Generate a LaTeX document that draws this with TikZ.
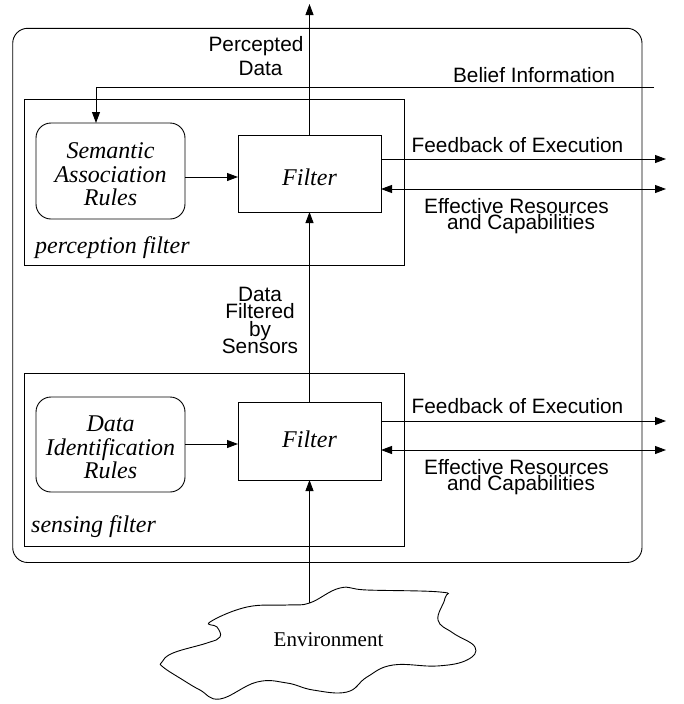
\documentclass[tikz,border=0pt]{standalone}
\usepackage{fontspec}
\setmainfont{Liberation Serif}
\setsansfont{Liberation Sans}
\usetikzlibrary{arrows.meta}
\newcommand{\lblf}[1]{\sffamily\fontsize{20.8}{#1}\selectfont\lineskiplimit=-30pt\relax}
\begin{document}
\begin{tikzpicture}[x=1pt,y=-1pt,
  plain/.style={line width=0.9pt},
  arr/.style={line width=0.9pt,-{Triangle[length=11pt,width=8pt]}},
  darr/.style={line width=0.9pt,{Triangle[length=11pt,width=8pt]}-{Triangle[length=11pt,width=8pt]}},
  rulebox/.style={draw,line width=0.9pt,rounded corners=15pt,minimum width=149pt,inner sep=0pt,outer sep=0pt,align=center,
    font={\itshape\fontsize{24}{23.5}\selectfont\lineskiplimit=-30pt\relax}},
  filtbox/.style={draw,line width=0.9pt,minimum width=143pt,inner sep=0pt,outer sep=0pt,text depth=0pt,
    font={\itshape\fontsize{24}{28}\selectfont}},
  groupbox/.style={draw,line width=0.9pt,inner sep=0pt,outer sep=0pt},
  grouplbl/.style={inner sep=0pt,anchor=base west,font={\itshape\fontsize{24}{28}\selectfont}},
  lbl/.style={inner sep=0pt,align=center}
]
\useasboundingbox (0,0) rectangle (683,704);

% outer agent box
\node[groupbox,rounded corners=15pt,minimum width=629.3pt,minimum height=534.2pt] (outer) at (327.35,295.4) {};

% group boxes
\node[groupbox,minimum width=379.7pt,minimum height=166.4pt] (pbox) at (214.15,182.5) {};
\node[groupbox,minimum width=380pt,minimum height=173pt] (sbox) at (214,459.5) {};
\node[grouplbl] (plbl) at (35,253) {perception filter};
\node[grouplbl] (slbl) at (31,532) {sensing filter};

% inner boxes
\node[rulebox,minimum height=96pt] (sem) at (110.5,171) {\rule{0pt}{23pt}Semantic\\Association\\Rules};
\node[filtbox,minimum height=77pt,text height=23pt] (f1) at (309.5,173.5) {Filter};
\node[rulebox,minimum height=95pt] (dir) at (110.5,444.5) {\rule{0pt}{22pt}Data\\Identification\\Rules};
\node[filtbox,minimum height=78pt,text height=12pt] (f2) at (309.5,441) {Filter};

% coordinates for free ends
\coordinate (ptop) at (309.5,4);
\coordinate (bstart) at (654,87.7);
\coordinate (bturn) at (96,87.7);
\coordinate (y1) at (0,177);
\coordinate (y2) at (0,444);
\coordinate (fb1) at (666,159);
\coordinate (ef1) at (666,189);
\coordinate (fb2) at (666,421);
\coordinate (ef2) at (666,450);
\coordinate (envtop) at (309.5,603);

% labels
\node[lbl,font=\lblf{24}] (pd) at (256,56.5) {Percepted\\\hspace*{9pt}Data};
\node[lbl,anchor=base,font=\lblf{24}] (bi) at (534,82) {Belief Information};
\node[lbl,anchor=base,font=\lblf{24}] (fe1) at (517.5,152) {Feedback of Execution};
\node[lbl,font=\lblf{16}] (er1) at (516.5,215.7) {Effective Resources\\\hspace*{9pt}and Capabilities};
\node[lbl,anchor=base,font=\lblf{24}] (fe2) at (517.5,413) {Feedback of Execution};
\node[lbl,font=\lblf{16}] (er2) at (516.5,476.7) {Effective Resources\\\hspace*{9pt}and Capabilities};
\node[lbl,font=\lblf{17.33}] (dfs) at (260,320.6) {Data\\Filtered\\by\\Sensors};

% connectors (perception)
\draw[arr] (f1.north) -- (ptop);
\draw[arr] (bstart) -- (bturn) -- (bturn |- sem.north);
\draw[arr] (sem.east |- y1) -- (f1.west |- y1);
\draw[arr] (f1.east |- fb1) -- (fb1);
\draw[darr] (f1.east |- ef1) -- (ef1);

% connectors (sensing)
\draw[arr] (f2.north) -- (f1.south);
\draw[arr] (dir.east |- y2) -- (f2.west |- y2);
\draw[arr] (f2.east |- fb2) -- (fb2);
\draw[darr] (f2.east |- ef2) -- (ef2);

% environment cloud
\draw[plain] plot[smooth cycle,tension=0.7] coordinates {
 (210,622) (247,607) (287,605) (309.5,603) (340,588) (367,590) (440,592) (445,598)
 (438,620) (453,633) (475,647) (467,660) (437,666) (393,665) (367,677) (347,692)
 (313,690) (287,683) (257,682) (220,699) (200,690) (183,680) (163,667) (162,662)
 (173,653) (207,643) (220,637) (217,627)};
\node[inner sep=0pt,anchor=base,font={\fontsize{21}{24}\selectfont}] (env) at (328.5,646) {Environment};
\draw[arr] (envtop) -- (f2.south);
\end{tikzpicture}
\end{document}
